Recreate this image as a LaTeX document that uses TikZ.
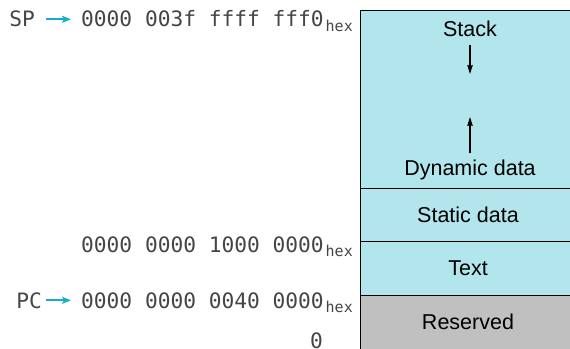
\documentclass[tikz,border=0pt]{standalone}
\usepackage{fontspec}
\setmainfont{Liberation Sans}
\newfontfamily\addrfont{DejaVu Sans Mono}
\usepackage{xcolor}
\usetikzlibrary{arrows.meta,positioning}

\definecolor{segfill}{HTML}{B3E5EC}
\definecolor{resfill}{HTML}{C0C0C0}
\definecolor{ptrcol}{HTML}{14AECB}
\definecolor{addrcol}{HTML}{454545}
\newcommand{\hexsub}{\kern2pt\raisebox{-4.5pt}{\fontsize{15}{16}\selectfont hex}}

\begin{document}
\begin{tikzpicture}[x=1pt, y=-1pt,
  seg/.style={draw, line width=1pt, fill=segfill, minimum width=216pt,
              inner sep=0pt, outer sep=0pt, font=\fontsize{21.5}{24}\selectfont},
  lbl/.style={font=\fontsize{21.5}{24}\selectfont, inner sep=0pt, anchor=base},
  addr/.style={font=\addrfont\fontsize{21.2}{24}\selectfont, text=addrcol,
               inner sep=0pt, anchor=base east},
  ptr/.style={-{Stealth[length=9pt, width=7pt, inset=2pt]}, line width=1.8pt, draw=ptrcol},
  growarr/.style={-{Stealth[length=9pt, width=5.5pt, inset=1pt]}, line width=1.1pt},
  node distance=0pt]
\useasboundingbox (0,0) rectangle (570,348);
% memory segments
\node[seg, minimum height=178pt, anchor=north west] (heap) at (360,10) {};
\node[seg, minimum height=53pt, below=of heap] (static) {Static data};
\node[seg, minimum height=54pt, below=of static] (text) {Text};
\node[seg, minimum height=54pt, below=of text, fill=resfill] (res) {Reserved};
\node[lbl] (stk) at (470,36) {Stack};
\node[lbl] (dyn) at (470,175) {Dynamic data};
\coordinate (stkend) at (470,74);
\coordinate (dynend) at (470,117);
\draw[growarr, shorten <=9pt] (stk.south) -- (stkend);
\draw[growarr, shorten <=6pt] (dyn.north) -- (dynend);
% addresses
\node[addr] (spaddr) at (353,27) {0000 003f ffff fff0\hexsub};
\node[addr] (txtaddr) at (353,252) {0000 0000 1000 0000\hexsub};
\node[addr] (pcaddr) at (353,308) {0000 0000 0040 0000\hexsub};
\node[addr] (zero) at (323,348) {0};
\node[addr] (sp) at (35,27) {SP};
\node[addr] (pc) at (42,308) {PC};
\foreach \a/\b/\s in {sp/spaddr/11pt, pc/pcaddr/4pt}
  \draw[ptr, shorten <=\s, shorten >=10pt] (\a.east) -- (\a.east -| \b.west);
\end{tikzpicture}
\end{document}
